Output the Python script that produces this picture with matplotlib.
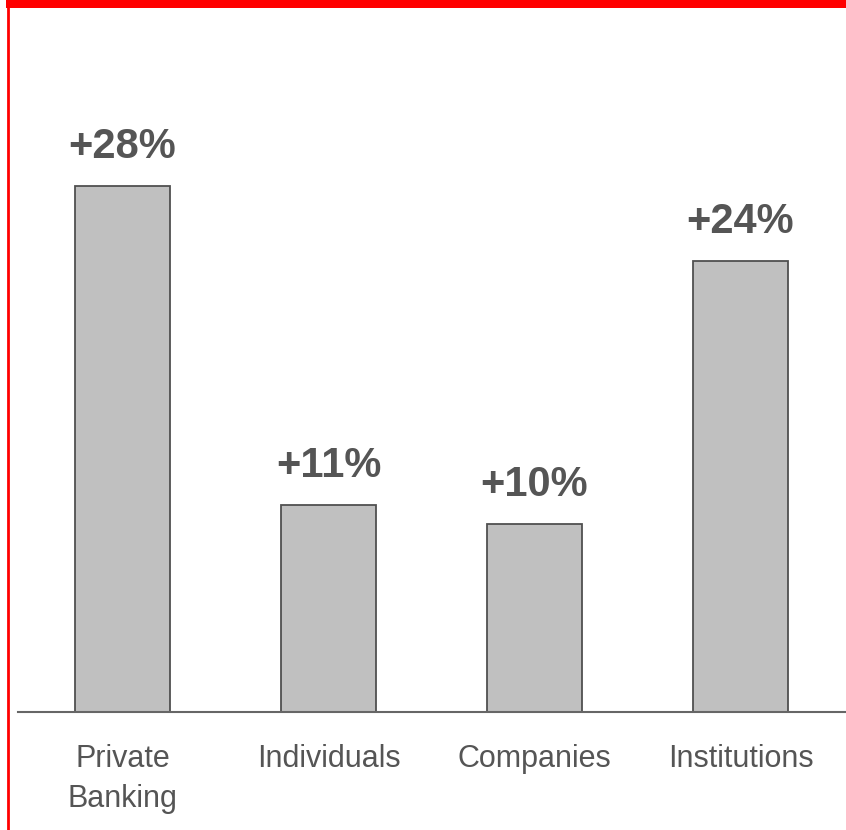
import matplotlib
matplotlib.use("Agg")
import matplotlib.pyplot as plt
from matplotlib.lines import Line2D
from matplotlib.patches import Rectangle

# growth by client segment
segments = ["Private\nBanking", "Individuals", "Companies", "Institutions"]
growth = [28, 11, 10, 24]
labels = ["+28%", "+11%", "+10%", "+24%"]

plt.rcParams['font.family'] = ['Liberation Sans', 'DejaVu Sans']
txt_col = "#555555"

fig = plt.figure(figsize=(8.46, 8.30), dpi=100)
ax = fig.add_axes([18/846, 118/830, 828/846, 704/830])

x = range(len(growth))
ax.bar(x, growth, width=0.46, color="#c0c0c0", edgecolor="#505050", linewidth=1.3, zorder=2)

for i, v in enumerate(growth):
    ax.annotate(labels[i], (i, v), xytext=(0, 20), textcoords="offset points",
                ha="center", va="baseline", fontsize=30, fontweight="bold", color=txt_col)

ax.set_xlim(-0.507, 3.512)
ax.set_ylim(0, 704/18.8)
ax.set_xticks(list(x))
ax.set_xticklabels(segments, fontsize=22, color=txt_col, linespacing=1.45)
ax.tick_params(axis="x", length=0, pad=23)
ax.set_yticks([])
for s in ["top", "right", "left"]:
    ax.spines[s].set_visible(False)
ax.spines["bottom"].set_color("#666666")
ax.spines["bottom"].set_linewidth(1.5)

# red frame: band on top, thin line on the left
fig.add_artist(Rectangle((6/846, 822/830), 840/846, 8/830, transform=fig.transFigure,
                         color="#ff0000", lw=0))
fig.add_artist(Line2D([8/846, 8/846], [0, 1], transform=fig.transFigure,
                      color="#ff0000", lw=2))

fig.savefig("out.png", dpi=100)
